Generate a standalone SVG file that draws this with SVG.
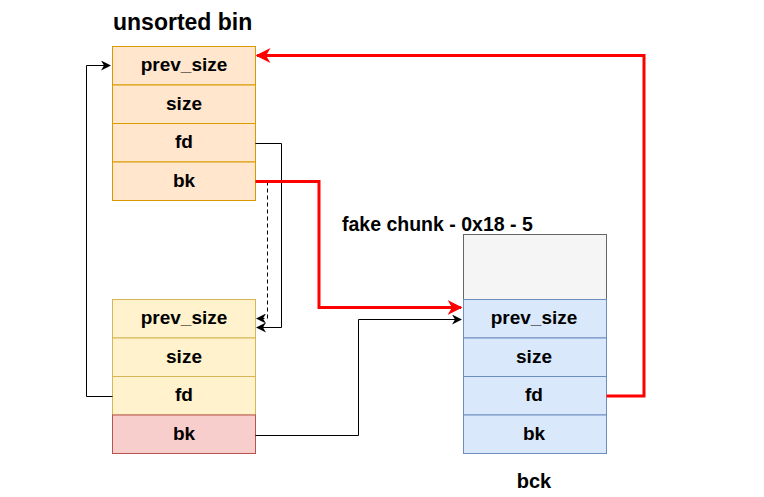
<svg xmlns="http://www.w3.org/2000/svg" width="764" height="497" viewBox="0 0 764 497">
<defs>
<style>
text{font-family:"Liberation Sans",Arial,sans-serif;font-weight:bold;fill:#000}
.c{font-size:19px;text-anchor:middle;dominant-baseline:central}
.o{fill:#ffe6cc;stroke:#d79b00;stroke-width:1}
.y{fill:#fff2cc;stroke:#d6b656;stroke-width:1}
.r{fill:#f8cecc;stroke:#b85450;stroke-width:1}
.b{fill:#dae8fc;stroke:#6c8ebf;stroke-width:1}
.g{fill:#f5f5f5;stroke:#666666;stroke-width:1}
.k{fill:none;stroke:#000;stroke-width:1}
.rd{fill:none;stroke:#ff0000;stroke-width:3}
</style>
<marker id="ak" viewBox="0 0 10 10" refX="9" refY="5" markerWidth="10" markerHeight="10" markerUnits="userSpaceOnUse" orient="auto"><path d="M0,0 L10,5 L0,10 L3,5 Z" fill="#000"/></marker>
<marker id="ar" viewBox="0 0 10 10" refX="9" refY="5" markerWidth="15" markerHeight="15" markerUnits="userSpaceOnUse" orient="auto"><path d="M0,0 L10,5 L0,10 L3,5 Z" fill="#ff0000"/></marker>
</defs>
<text x="113" y="30" style="font-size:23px">unsorted bin</text>
<text x="342" y="231" style="font-size:19.5px">fake chunk - 0x18 - 5</text>
<text x="534" y="488" style="font-size:20px;text-anchor:middle">bck</text>
<g id="chunk1">
<rect class="o" x="112.5" y="46.5" width="143" height="38.5"/><text class="c" x="184" y="64.5">prev_size</text>
<rect class="o" x="112.5" y="85" width="143" height="38.5"/><text class="c" x="184" y="103">size</text>
<rect class="o" x="112.5" y="123.5" width="143" height="38.5"/><text class="c" x="184" y="141.5">fd</text>
<rect class="o" x="112.5" y="162" width="143" height="38.5"/><text class="c" x="184" y="180">bk</text>
</g>
<g id="chunk2">
<rect class="y" x="112.5" y="299.5" width="143" height="38.5"/><text class="c" x="184" y="317.5">prev_size</text>
<rect class="y" x="112.5" y="338" width="143" height="38.5"/><text class="c" x="184" y="356">size</text>
<rect class="y" x="112.5" y="376.5" width="143" height="38.5"/><text class="c" x="184" y="394.5">fd</text>
<rect class="r" x="112.5" y="415" width="143" height="38.5"/><text class="c" x="184" y="433.5">bk</text>
</g>
<g id="bck">
<rect class="g" x="463.5" y="234.5" width="143" height="65"/>
<rect class="b" x="463.5" y="299.5" width="143" height="38.5"/><text class="c" x="534" y="317.5">prev_size</text>
<rect class="b" x="463.5" y="338" width="143" height="38.5"/><text class="c" x="534" y="356">size</text>
<rect class="b" x="463.5" y="376.5" width="143" height="38.5"/><text class="c" x="534" y="394.5">fd</text>
<rect class="b" x="463.5" y="415" width="143" height="38.5"/><text class="c" x="534" y="433.5">bk</text>
</g>
<g id="connectors">
<path class="k" d="M255.5,143.5 H281.5 V327.5 H257" marker-end="url(#ak)"/>
<path class="k" d="M267.5,181.5 V318.5 H257" stroke-dasharray="4 3" marker-end="url(#ak)"/>
<path class="rd" d="M255.5,181.5 H319 V307.5 H461" marker-end="url(#ar)"/>
<path class="k" d="M255.5,435.5 H358.5 V319.5 H461" marker-end="url(#ak)"/>
<path class="k" d="M112.5,396.5 H86.5 V65.5 H110" marker-end="url(#ak)"/>
<path class="rd" d="M606.5,396 H644 V55.5 H257" marker-end="url(#ar)"/>
</g>
</svg>
